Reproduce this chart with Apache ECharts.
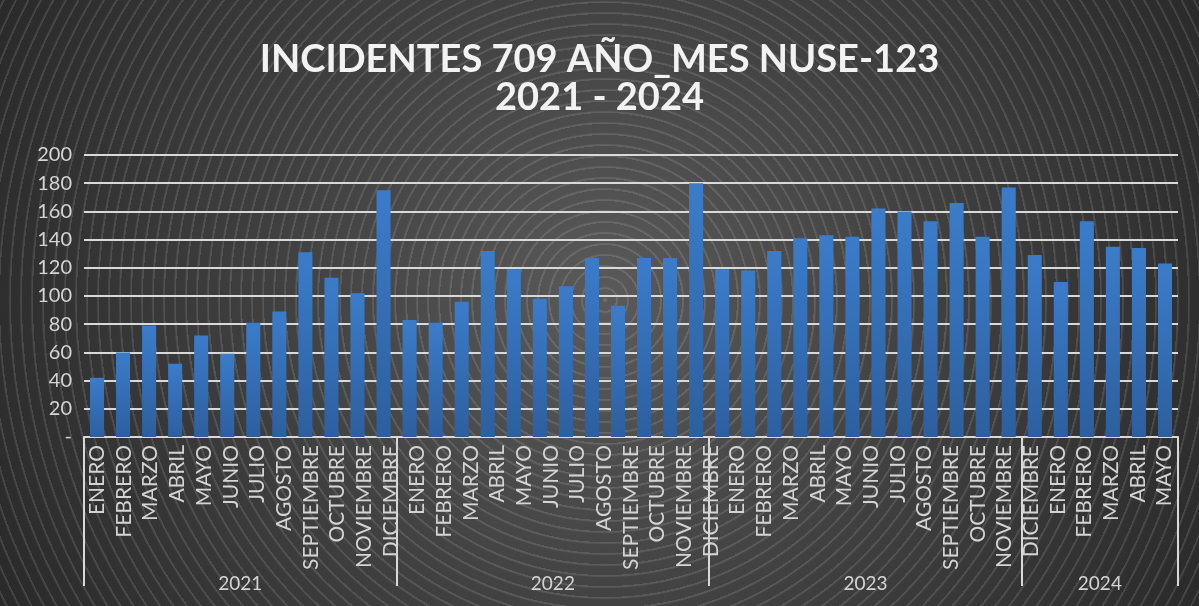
<!DOCTYPE html>
<html>
<head>
<meta charset="utf-8">
<script src="https://cdn.jsdelivr.net/npm/echarts@6/dist/echarts.min.js"></script>
<style>
  html, body { margin:0; padding:0; width:1199px; height:606px; overflow:hidden; }
  body {
    background:
      repeating-radial-gradient(circle at 605px 300px, rgba(255,255,255,0.12) 0px, rgba(255,255,255,0.12) 1.2px, rgba(255,255,255,0) 2.6px, rgba(255,255,255,0) 11px),
      radial-gradient(circle at 605px 300px, #5a5a5a 0px, #404040 330px, #282828 700px);
  }
  #chart { width:1199px; height:606px; }
</style>
</head>
<body>
<div id="chart"></div>
<script>
// ---- data ----
const title = 'INCIDENTES 709 AÑO_MES NUSE-123\n2021 - 2024';
const years = ['2021', '2022', '2023', '2024'];
const yearSpans = [12, 12, 12, 6];           // bars per year group
const monthLabels = [
  'ENERO','FEBRERO','MARZO','ABRIL','MAYO','JUNIO','JULIO','AGOSTO','SEPTIEMBRE','OCTUBRE','NOVIEMBRE','DICIEMBRE',
  'ENERO','FEBRERO','MARZO','ABRIL','MAYO','JUNIO','JULIO','AGOSTO','SEPTIEMBRE','OCTUBRE','NOVIEMBRE','DICIEMBRE',
  'ENERO','FEBRERO','MARZO','ABRIL','MAYO','JUNIO','JULIO','AGOSTO','SEPTIEMBRE','OCTUBRE','NOVIEMBRE','DICIEMBRE',
  'ENERO','FEBRERO','MARZO','ABRIL','MAYO'
];
const values2021 = [42, 60, 79, 52, 72, 59, 81, 89, 131, 113, 102, 175];
const values2022 = [83, 81, 96, 132, 119, 98, 107, 127, 93, 127, 127, 180];
const values2023 = [119, 118, 132, 141, 143, 142, 162, 160, 153, 166, 142, 177];
const values2024 = [129, 110, 153, 135, 134, 123];
const yTicks = { min: 0, max: 200, interval: 20 };

// ---- derived ----
const values = [].concat(values2021, values2022, values2023, values2024);
const barCats = values.map((_, i) => String(i));
const bounds = [0];
yearSpans.forEach(s => bounds.push(bounds[bounds.length - 1] + s));
const mids = yearSpans.map((s, i) => bounds[i] + s / 2);

const txt = '#d4d4d4';
const fontFamily = 'Lato, "Open Sans", sans-serif';

const chart = echarts.init(document.getElementById('chart'), null, { renderer: 'canvas' });
chart.setOption({
  backgroundColor: 'transparent',
  animation: false,
  title: {
    text: title,
    left: 'center',
    top: 36,
    textStyle: { color: '#f2f2f2', fontFamily, fontWeight: 'bold', fontSize: 38, lineHeight: 38 }
  },
  grid: { left: 84, right: 21, top: 155, bottom: 169, containLabel: false },
  xAxis: [
    {
      type: 'category', data: barCats, position: 'bottom',
      axisLine: { show: true, lineStyle: { color: '#d9d9d9', width: 2 } },
      axisTick: { show: false }, axisLabel: { show: false }, splitLine: { show: false }
    },
    {
      type: 'category', data: monthLabels, position: 'bottom',
      axisLine: { show: false }, axisTick: { show: false }, splitLine: { show: false },
      axisLabel: { rotate: 90, interval: 0, margin: 8, color: txt, fontFamily, fontSize: 21 }
    },
    {
      type: 'value', min: 0, max: values.length, position: 'bottom',
      axisLine: { show: false }, splitLine: { show: false },
      axisTick: { show: true, customValues: bounds, length: 149, lineStyle: { color: '#d9d9d9', width: 2 } },
      axisLabel: {
        customValues: mids, margin: 137, color: txt, fontFamily, fontSize: 19,
        formatter: v => years[mids.indexOf(v)]
      }
    }
  ],
  yAxis: {
    type: 'value', min: yTicks.min, max: yTicks.max, interval: yTicks.interval,
    axisLine: { show: false }, axisTick: { show: false },
    axisLabel: { color: txt, fontFamily, fontSize: 20, margin: 12, formatter: v => (v === 0 ? '-' : String(v)) },
    splitLine: { lineStyle: { color: '#d9d9d9', width: 2 } }
  },
  series: [{
    type: 'bar', xAxisIndex: 0, yAxisIndex: 0, data: values, barWidth: '54%',
    itemStyle: {
      color: new echarts.graphic.LinearGradient(0, 0, 0, 1, [
        { offset: 0, color: '#3b7cca' },
        { offset: 1, color: '#2d5f9e' }
      ])
    }
  }]
});
</script>
</body>
</html>
